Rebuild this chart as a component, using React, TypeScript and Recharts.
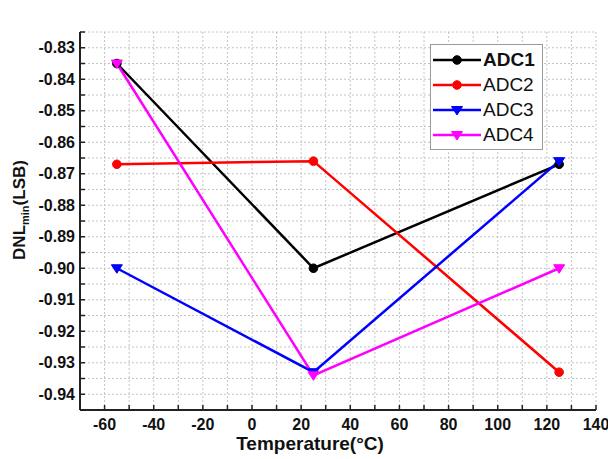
import {
	CartesianGrid,
	Legend,
	Line,
	LineChart,
	XAxis,
	YAxis,
} from "recharts";

const temps = [-55, 25, 125];
const adc1 = [-0.835, -0.9, -0.867];
const adc2 = [-0.867, -0.866, -0.933];
const adc3 = [-0.9, -0.933, -0.866];
const adc4 = [-0.835, -0.934, -0.9];

const xTicks = [
	-70, -60, -50, -40, -30, -20, -10, 0, 10, 20, 30, 40, 50, 60, 70, 80, 90,
	100, 110, 120, 130, 140,
];
const yTicks = [
	-0.945, -0.94, -0.935, -0.93, -0.925, -0.92, -0.915, -0.91, -0.905, -0.9,
	-0.895, -0.89, -0.885, -0.88, -0.875, -0.87, -0.865, -0.86, -0.855, -0.85,
	-0.845, -0.84, -0.835, -0.83, -0.825,
];

const series = [
	{ key: "adc1", name: "ADC1", color: "#000000", shape: "circle", bold: true },
	{ key: "adc2", name: "ADC2", color: "#ff0000", shape: "circle", bold: false },
	{ key: "adc3", name: "ADC3", color: "#0000ff", shape: "tri", bold: false },
	{ key: "adc4", name: "ADC4", color: "#ff00ff", shape: "tri", bold: false },
];

const data = temps.map((t, i) => ({
	t,
	adc1: adc1[i],
	adc2: adc2[i],
	adc3: adc3[i],
	adc4: adc4[i],
}));

const FONT = "'Liberation Sans', Arial, sans-serif";
const FRAME = "#222";
const TICK_LEN = 5;

function triPoints(cx: number, cy: number) {
	return `${cx - 5.5},${cy - 3.5} ${cx + 5.5},${cy - 3.5} ${cx},${cy + 5}`;
}

function Marker({ cx, cy, color, shape }: any) {
	if (shape === "tri") {
		return <polygon points={triPoints(cx, cy)} fill={color} stroke={color} />;
	}
	return <circle cx={cx} cy={cy} r={4.3} fill={color} stroke={color} />;
}

// axis ticks are drawn inward, with labels only on majors
function BottomTick({ x, y, payload }: any) {
	const v = payload.value;
	const major = v % 20 === 0;
	return (
		<g>
			<line x1={x} x2={x} y1={y} y2={y - TICK_LEN} stroke={FRAME} strokeWidth={1.5} />
			{major && (
				<text x={x} y={y + 20} textAnchor="middle" fontSize={16} fontWeight="bold" fill="#111">
					{v}
				</text>
			)}
		</g>
	);
}

function TopTick({ x, y }: any) {
	return <line x1={x} x2={x} y1={y} y2={y + TICK_LEN} stroke={FRAME} strokeWidth={1.5} />;
}

function LeftTick({ x, y, payload }: any) {
	const v = payload.value;
	const major = Math.round(v * 1000) % 10 === 0;
	return (
		<g>
			<line x1={x} x2={x + TICK_LEN} y1={y} y2={y} stroke={FRAME} strokeWidth={1.5} />
			{major && (
				<text x={x - 5} y={y + 5.5} textAnchor="end" fontSize={16} fontWeight="bold" fill="#111">
					{v.toFixed(2)}
				</text>
			)}
		</g>
	);
}

function RightTick({ x, y }: any) {
	return <line x1={x} x2={x - TICK_LEN} y1={y} y2={y} stroke={FRAME} strokeWidth={1.5} />;
}

function LegendBox() {
	return (
		<div
			style={{
				border: "1px solid #9a9a9a",
				background: "#fff",
				padding: "2px 6px 2px 1px",
				boxSizing: "border-box",
				width: 113,
			}}
		>
			{series.map((s) => (
				<div key={s.key} style={{ display: "flex", alignItems: "center", height: 25 }}>
					<svg width={51} height={14} style={{ display: "block" }}>
						<line x1={1} x2={49} y1={7} y2={7} stroke={s.color} strokeWidth={2.5} />
						<Marker cx={25} cy={7} color={s.color} shape={s.shape} />
					</svg>
					<span
						style={{
							fontSize: 19,
							fontWeight: s.bold ? "bold" : "normal",
							color: "#111",
							lineHeight: "25px",
						}}
					>
						{s.name}
					</span>
				</div>
			))}
		</div>
	);
}

const XTitle = () => (
	<text x={310} y={450} textAnchor="middle" fontSize={19} fontWeight="bold" fill="#111">
		Temperature(°C)
	</text>
);

const YTitle = () => (
	<text
		transform="translate(25,210) rotate(-90)"
		textAnchor="middle"
		fontSize={17}
		fontWeight="bold"
		fill="#111"
	>
		DNL
		<tspan fontSize={11} dy={4}>
			min
		</tspan>
		<tspan dy={-4}>(LSB)</tspan>
	</text>
);

const Title = () => (
	<text x={255} y={24} fontSize={20} fontWeight="bold" fill="#111">
		DNL
		<tspan fontSize={12} dy={5}>
			min
		</tspan>
	</text>
);

export default function App() {
	return (
		<div
			style={{
				position: "absolute",
				left: 0,
				top: 0,
				width: 608,
				height: 459,
				background: "#fff",
				fontFamily: FONT,
			}}
		>
			<LineChart
				width={608}
				height={459}
				data={data}
				margin={{ top: 32, right: 12, bottom: 0, left: 0 }}
			>
				<CartesianGrid stroke="#c4c4c4" strokeDasharray="2 2" />
				<XAxis
					dataKey="t"
					type="number"
					domain={[-70, 140]}
					ticks={xTicks}
					interval={0}
					height={49}
					tickSize={0}
					tickMargin={0}
					tickLine={false}
					axisLine={{ stroke: FRAME, strokeWidth: 2 }}
					tick={BottomTick}
					label={{ content: XTitle }}
				/>
				<XAxis
					xAxisId="top"
					orientation="top"
					dataKey="t"
					type="number"
					domain={[-70, 140]}
					ticks={xTicks}
					interval={0}
					height={0}
					tickSize={0}
					tickMargin={0}
					tickLine={false}
					axisLine={{ stroke: FRAME, strokeWidth: 2 }}
					tick={TopTick}
					label={{ content: Title }}
				/>
				<YAxis
					type="number"
					domain={[-0.945, -0.825]}
					ticks={yTicks}
					interval={0}
					width={80}
					tickSize={0}
					tickMargin={0}
					tickLine={false}
					allowDataOverflow
					axisLine={{ stroke: FRAME, strokeWidth: 2 }}
					tick={LeftTick}
					label={{ content: YTitle }}
				/>
				<YAxis
					yAxisId="right"
					orientation="right"
					type="number"
					domain={[-0.945, -0.825]}
					ticks={yTicks}
					interval={0}
					width={0}
					tickSize={0}
					tickMargin={0}
					tickLine={false}
					allowDataOverflow
					axisLine={{ stroke: FRAME, strokeWidth: 2 }}
					tick={RightTick}
				/>
				<Legend
					layout="vertical"
					align="center"
					verticalAlign="middle"
					content={LegendBox}
					wrapperStyle={{ left: 430, top: 44, width: 113 }}
				/>
				{series.map((s) => (
					<Line
						key={s.key}
						dataKey={s.key}
						name={s.name}
						type="linear"
						stroke={s.color}
						strokeWidth={2.5}
						isAnimationActive={false}
						dot={(p: any) => (
							<Marker key={`${s.key}-${p.index}`} cx={p.cx} cy={p.cy} color={s.color} shape={s.shape} />
						)}
					/>
				))}
			</LineChart>
		</div>
	);
}
